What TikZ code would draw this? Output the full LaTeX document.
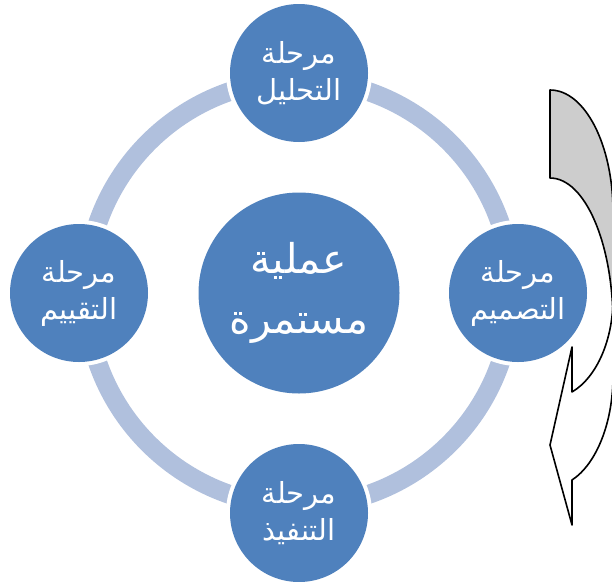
\documentclass[tikz,border=0pt]{standalone}
\usepackage{fontspec}
\newfontfamily\arabicfont[Script=Arabic]{DejaVu Sans}
\TeXXeTstate=1
\definecolor{phaseblue}{RGB}{79,129,189}
\definecolor{ringblue}{RGB}{176,192,221}
\definecolor{foldgray}{RGB}{205,205,205}
\tikzset{
  phase/.style={circle, fill=phaseblue, minimum size=138pt, inner sep=0pt,
    text=white, align=center, font=\arabicfont\fontsize{29}{37}\selectfont},
  hub/.style={circle, fill=phaseblue, minimum size=201pt, inner sep=0pt,
    text=white, align=center, font=\arabicfont\fontsize{41}{60}\selectfont},
  halo/.style={fill=white},
  foldline/.style={draw=black, line width=1.6pt, line join=round},
}
\begin{document}
\begin{tikzpicture}[x=1pt,y=-1pt]
\useasboundingbox (0,0) rectangle (612,581);

% centres of the cycle and of the four phases
\coordinate (o) at (299,293);
\coordinate (pt) at (299,73);
\coordinate (pr) at (518,293);
\coordinate (pb) at (299,513);
\coordinate (pl) at (79,293);

% the cycle ring, interrupted round each phase
\draw[ringblue, line width=19pt] (o) circle[radius=213];
\foreach \c in {pt,pr,pb,pl} \fill[halo] (\c) circle[radius=73];

% hub and phases
\node[hub] (hub) at (o) {\beginR عملية\endR\\\beginR مستمرة\endR};
\node[phase] (analysis) at (pt) {\beginR مرحلة\endR\\\beginR التحليل\endR};
\node[phase] (design) at (pr) {\beginR مرحلة\endR\\\beginR التصميم\endR};
\node[phase] (build) at (pb) {\beginR مرحلة\endR\\\beginR التنفيذ\endR};
\node[phase] (review) at (pl) {\beginR مرحلة\endR\\\beginR التقييم\endR};

% curved arrow on the right edge
\begin{scope}
  \clip (0,0) rectangle (612,581);
  % back face of the band (tail)
  \path[foldline, fill=foldgray]
    (550,90) arc[start angle=-90, end angle=0, x radius=63, y radius=122]
    -- (650,212) -- (650,323) -- (613,323)
    arc[start angle=0, end angle=-90, x radius=63, y radius=145] -- cycle;
  % front face of the band with the arrow head
  \path[foldline, fill=white]
    (572,392) arc[start angle=69.6, end angle=0, x radius=63, y radius=100]
    -- (650,298) -- (650,376) -- (613,376)
    arc[start angle=0, end angle=69.6, x radius=63, y radius=111]
    -- (572,525) -- (550,445) -- (572,347) -- cycle;
\end{scope}
\end{tikzpicture}
\end{document}
